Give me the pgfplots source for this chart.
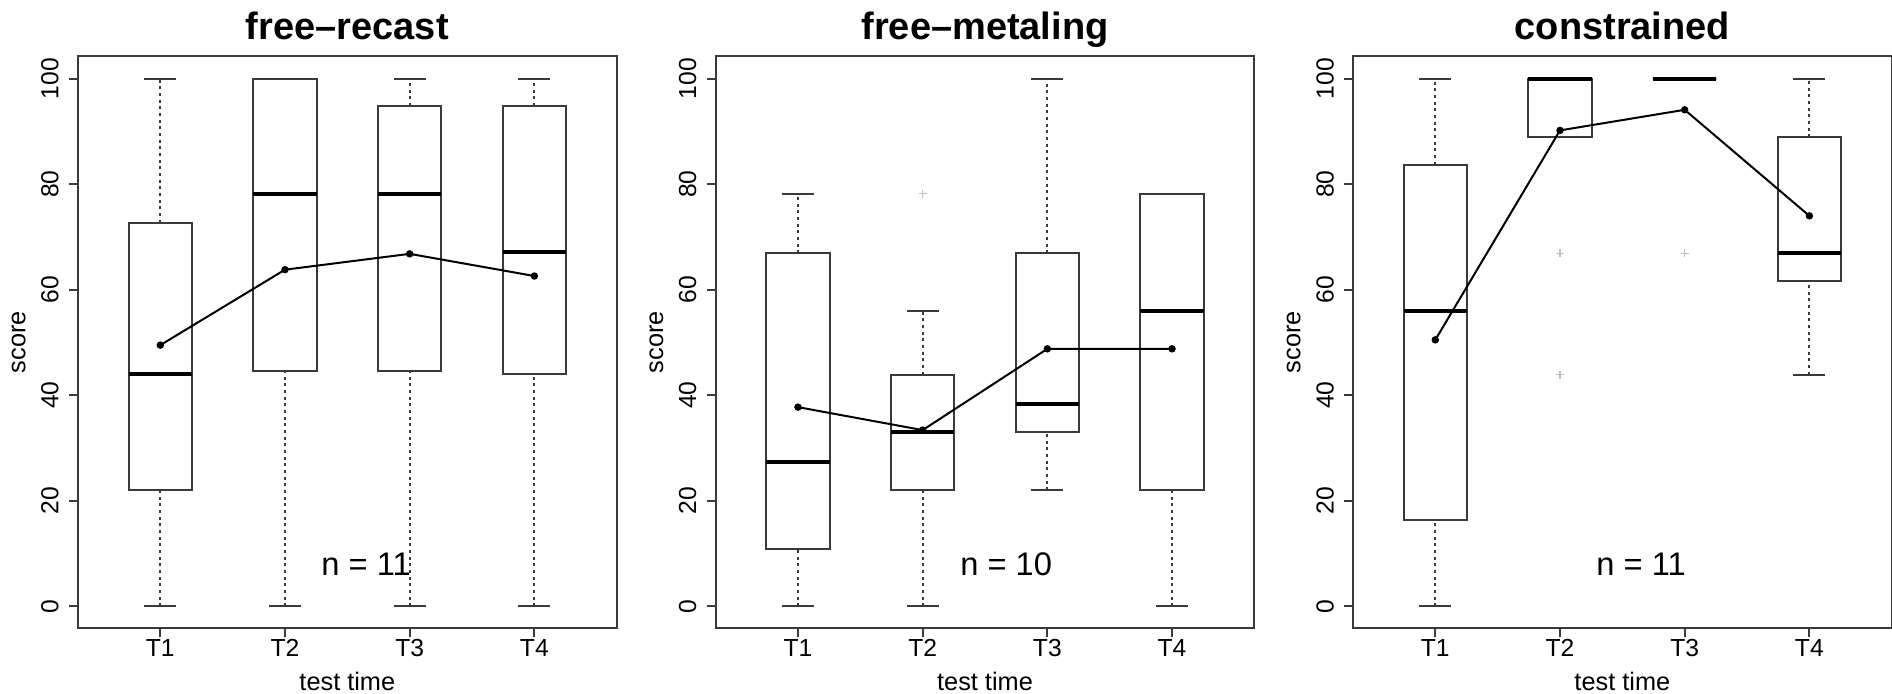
\documentclass[border=0pt]{standalone}
\usepackage{fontspec}
\setmainfont{Liberation Sans}
\usepackage{pgfplots}
\pgfplotsset{compat=1.18}
\usepgfplotslibrary{statistics}
\definecolor{BoxInk}{HTML}{3A3A3A}

\tikzset{nlabel/.style={font=\fontsize{9.8}{11}\selectfont}}

\pgfplotsset{
  panel/.style={
    scale only axis, width=161.6pt, height=171.75pt,
    anchor=south west,
    xmin=0.34, xmax=4.66, ymin=-4.2, ymax=104.3,
    xtick={1,2,3,4}, xticklabels={T1,T2,T3,T4},
    ytick={0,20,40,60,80,100},
    xtick pos=lower, ytick pos=left,
    tick align=outside, major tick length=2.7pt,
    tick style={BoxInk,line width=0.6pt},
    axis line style={BoxInk,line width=0.6pt},
    /pgf/number format/assume math mode=true,
    ticklabel style={font=\fontsize{7.4}{8}\selectfont,inner sep=0pt},
    yticklabel style={xshift=-5.7pt,rotate=90,anchor=center},
    xticklabel style={anchor=north,yshift=-0.3pt},
    xlabel={test time}, ylabel={score},
    label style={font=\fontsize{7.6}{9}\selectfont,inner sep=0pt},
    xlabel style={at={(axis description cs:0.5,-0.108)},anchor=base},
    ylabel style={at={(axis description cs:-0.11,0.5)},anchor=center},
    title style={at={(axis description cs:0.5,0.994)},anchor=base,inner sep=0pt,
      font=\bfseries\fontsize{11.4}{13}\selectfont},
    boxplot/draw direction=y,
    boxplot/box extend=0.51,
    boxplot/draw/lower whisker/.code={
      \draw[BoxInk,line width=0.6pt,dash pattern=on 0.9pt off 1.1pt]
        (boxplot box cs:\pgfplotsboxplotvalue{lower whisker},0.5) --
        (boxplot box cs:\pgfplotsboxplotvalue{lower quartile},0.5);
      \draw[BoxInk,line width=0.6pt]
        (boxplot box cs:\pgfplotsboxplotvalue{lower whisker},0.25) --
        (boxplot box cs:\pgfplotsboxplotvalue{lower whisker},0.75);
    },
    boxplot/draw/upper whisker/.code={
      \draw[BoxInk,line width=0.6pt,dash pattern=on 0.9pt off 1.1pt]
        (boxplot box cs:\pgfplotsboxplotvalue{upper quartile},0.5) --
        (boxplot box cs:\pgfplotsboxplotvalue{upper whisker},0.5);
      \draw[BoxInk,line width=0.6pt]
        (boxplot box cs:\pgfplotsboxplotvalue{upper whisker},0.25) --
        (boxplot box cs:\pgfplotsboxplotvalue{upper whisker},0.75);
    },
    boxplot/draw/median/.code={
      \draw[black,line width=1.3pt]
        (boxplot box cs:\pgfplotsboxplotvalue{median},0) --
        (boxplot box cs:\pgfplotsboxplotvalue{median},1);
    },
  },
  boxbar/.style={BoxInk,line width=0.6pt,solid,mark=none},
  meanline/.style={black,line width=0.6pt,mark=*,mark size=0.8pt},
  outl/.style={only marks,mark=+,mark size=1.2pt,gray!50,line width=0.4pt},
}

\begin{document}
\begin{tikzpicture}
\useasboundingbox (0,0) rectangle (567.6pt,208.2pt);

% free-recast
\begin{axis}[panel, at={(23.4pt,19.65pt)}, title={free–recast}]
\addplot[boxbar, boxplot prepared={draw position=1,lower whisker=0,lower quartile=22,
  median=44,upper quartile=72.7,upper whisker=100}] coordinates {};
\addplot[boxbar, boxplot prepared={draw position=2,lower whisker=0,lower quartile=44.6,
  median=78.2,upper quartile=100,upper whisker=100}] coordinates {};
\addplot[boxbar, boxplot prepared={draw position=3,lower whisker=0,lower quartile=44.6,
  median=78.2,upper quartile=94.8,upper whisker=100}] coordinates {};
\addplot[boxbar, boxplot prepared={draw position=4,lower whisker=0,lower quartile=44,
  median=67.1,upper quartile=94.8,upper whisker=100}] coordinates {};
\addplot[meanline] coordinates {(1,49.5)(2,63.8)(3,66.8)(4,62.6)};
\node[nlabel] at (axis cs:2.65,8) {n = 11};
\end{axis}

% free-metaling
\begin{axis}[panel, at={(214.7pt,19.65pt)}, title={free–metaling}]
\addplot[boxbar, boxplot prepared={draw position=1,lower whisker=0,lower quartile=10.9,
  median=27.4,upper quartile=66.9,upper whisker=78.2}] coordinates {};
\addplot[boxbar, boxplot prepared={draw position=2,lower whisker=0,lower quartile=22,
  median=33,upper quartile=43.9,upper whisker=56}] coordinates {};
\addplot[boxbar, boxplot prepared={draw position=3,lower whisker=22,lower quartile=33,
  median=38.4,upper quartile=66.9,upper whisker=100}] coordinates {};
\addplot[boxbar, boxplot prepared={draw position=4,lower whisker=0,lower quartile=22,
  median=56,upper quartile=78.2,upper whisker=78.2}] coordinates {};
\addplot[outl] coordinates {(2,78.2)};
\addplot[meanline] coordinates {(1,37.75)(2,33.4)(3,48.8)(4,48.8)};
\node[nlabel] at (axis cs:2.67,8) {n = 10};
\end{axis}

% constrained
\begin{axis}[panel, at={(405.9pt,19.65pt)}, title={constrained}]
\addplot[boxbar, boxplot prepared={draw position=1,lower whisker=0,lower quartile=16.4,
  median=56,upper quartile=83.7,upper whisker=100}] coordinates {};
\addplot[boxbar, boxplot prepared={draw position=2,lower whisker=88.9,lower quartile=88.9,
  median=100,upper quartile=100,upper whisker=100}] coordinates {};
\addplot[boxbar, boxplot prepared={draw position=3,lower whisker=100,lower quartile=100,
  median=100,upper quartile=100,upper whisker=100}] coordinates {};
\addplot[boxbar, boxplot prepared={draw position=4,lower whisker=43.9,lower quartile=61.7,
  median=66.9,upper quartile=88.9,upper whisker=100}] coordinates {};
\addplot[outl] coordinates {(2,66.9)(2,43.9)(3,66.9)};
\addplot[meanline] coordinates {(1,50.5)(2,90.2)(3,94.1)(4,74.0)};
\node[nlabel] at (axis cs:2.65,8) {n = 11};
\end{axis}
\end{tikzpicture}
\end{document}
